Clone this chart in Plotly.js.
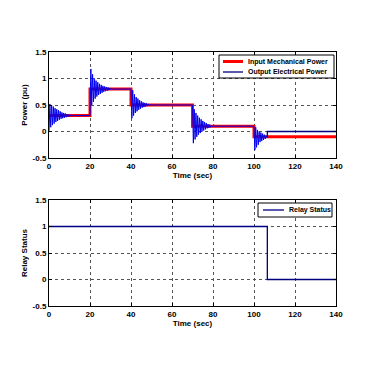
<!DOCTYPE html>
<html><head><meta charset="utf-8">
<script src="https://cdn.plot.ly/plotly-3.0.1.min.js"></script>
<style>html,body{margin:0;padding:0;background:#fff}#c{width:370px;height:370px}</style>
</head><body><div id="c"></div>
<script>
// Input mechanical power steps (time in sec, power in pu)
var mechTime = [0, 20, 20, 40, 40, 70, 70, 100, 100, 140];
var mechPower = [0.3, 0.3, 0.8, 0.8, 0.5, 0.5, 0.1, 0.1, -0.1, -0.1];

// Output electrical power: oscillation extremes read per disturbance
var segStart = [0, 20, 40, 70, 100];
var segStep = 0.42;
var seg1 = [0, 0.52, 0.08, 0.5, 0.12, 0.47, 0.15, 0.44, 0.18, 0.42, 0.2, 0.4, 0.22, 0.38, 0.24, 0.36, 0.25, 0.35, 0.26, 0.34, 0.27, 0.33, 0.28, 0.32, 0.285, 0.315, 0.29, 0.31, 0.295, 0.305, 0.3];
var seg2 = [0.3, 1.18, 0.5, 1.08, 0.56, 1.0, 0.62, 0.96, 0.66, 0.93, 0.69, 0.9, 0.71, 0.88, 0.73, 0.86, 0.75, 0.85, 0.76, 0.84, 0.77, 0.83, 0.78, 0.82, 0.79, 0.81, 0.8];
var seg3 = [0.8, 0.25, 0.78, 0.3, 0.7, 0.35, 0.65, 0.38, 0.62, 0.41, 0.59, 0.43, 0.57, 0.45, 0.55, 0.46, 0.54, 0.47, 0.53, 0.48, 0.52, 0.49, 0.51, 0.5];
var seg4 = [0.5, -0.22, 0.42, -0.15, 0.35, -0.1, 0.3, -0.06, 0.26, -0.03, 0.23, 0.0, 0.2, 0.02, 0.18, 0.04, 0.16, 0.06, 0.14, 0.07, 0.13, 0.08, 0.12, 0.09, 0.11, 0.1];
var seg5 = [0.1, -0.35, 0.08, -0.3, 0.03, -0.25, 0.0, -0.2, -0.02, -0.18, -0.04, -0.16, -0.06, -0.14, -0.08, -0.12, -0.1];
var relayTripTime = 106.5;
var postTripPower = [0, 0];

// Relay status
var relayTime = [0, 106.5, 140];
var relayStatus = [1, 0, 0];

var xTicks = [0, 20, 40, 60, 80, 100, 120, 140];
var yTicks = [-0.5, 0, 0.5, 1, 1.5];
var yTickText = ['-0.5', '0', '0.5', '1', '1.5'];

var segs = [seg1, seg2, seg3, seg4, seg5];
var elecT = [], elecP = [];
for (var s = 0; s < segs.length; s++) {
  var nextStart = s + 1 < segStart.length ? segStart[s + 1] : relayTripTime;
  for (var i = 0; i < segs[s].length; i++) {
    elecT.push(segStart[s] + i * segStep);
    elecP.push(segs[s][i]);
  }
  elecT.push(nextStart); elecP.push(segs[s][segs[s].length - 1]);
}
var tripT = [relayTripTime, relayTripTime, 140];
var tripP = [-0.1, postTripPower[0], postTripPower[1]];

var fam = 'Liberation Sans, Arial, sans-serif';
function ax(extra) {
  var a = {
    showline: true, linecolor: '#000', linewidth: 1, mirror: 'ticks',
    ticks: 'inside', ticklen: 3, tickcolor: '#000',
    showgrid: true, gridcolor: '#555', griddash: 'dot', gridwidth: 1,
    zeroline: false, tickfont: {family: fam, size: 8, color: '#000', weight: 'bold'}
  };
  for (var k in extra) a[k] = extra[k];
  return a;
}

var elecColor = '#0000ee';
var relayColor = '#000080';
var traces = [
  {x: mechTime, y: mechPower, mode: 'lines', name: 'Input Mechanical Power',
   line: {color: '#ff0000', width: 3}, xaxis: 'x', yaxis: 'y'},
  {x: elecT, y: elecP, mode: 'lines', name: 'Output Electrical Power',
   line: {color: elecColor, width: 1}, xaxis: 'x', yaxis: 'y'},
  {x: tripT, y: tripP, mode: 'lines', name: 'Output Electrical Power (after trip)',
   line: {color: relayColor, width: 1.3}, xaxis: 'x', yaxis: 'y'},
  {x: relayTime, y: relayStatus, mode: 'lines', name: 'Relay Status', line: {color: relayColor, width: 1.3, shape: 'hv'},
   xaxis: 'x2', yaxis: 'y2'}
];

// custom legend (pixel -> paper helpers)
function px(v) { return (v - 49) / 287; }
function py(v) { return 1 - (v - 52) / 254; }
var legFont = {family: fam, size: 7, color: '#000', weight: 'bold'};
var shapes = [
  {type: 'rect', xref: 'paper', yref: 'paper', x0: px(219), x1: px(334), y0: py(78), y1: py(55),
   line: {color: '#000', width: 1}, fillcolor: '#fff', layer: 'above'},
  {type: 'line', xref: 'paper', yref: 'paper', x0: px(223), x1: px(243), y0: py(61.5), y1: py(61.5),
   line: {color: '#ff0000', width: 3}, layer: 'above'},
  {type: 'line', xref: 'paper', yref: 'paper', x0: px(223), x1: px(243), y0: py(72), y1: py(72),
   line: {color: relayColor, width: 1.3}, layer: 'above'},
  {type: 'rect', xref: 'paper', yref: 'paper', x0: px(258), x1: px(332), y0: py(217), y1: py(203),
   line: {color: '#000', width: 1}, fillcolor: '#fff', layer: 'above'},
  {type: 'line', xref: 'paper', yref: 'paper', x0: px(263), x1: px(284), y0: py(210), y1: py(210),
   line: {color: relayColor, width: 1.3}, layer: 'above'}
];
var annotations = [
  {xref: 'paper', yref: 'paper', x: px(246), y: py(61.5), text: traces[0].name, showarrow: false,
   xanchor: 'left', yanchor: 'middle', font: legFont},
  {xref: 'paper', yref: 'paper', x: px(246), y: py(72), text: traces[1].name, showarrow: false,
   xanchor: 'left', yanchor: 'middle', font: legFont},
  {xref: 'paper', yref: 'paper', x: px(287), y: py(210), text: traces[3].name, showarrow: false,
   xanchor: 'left', yanchor: 'middle', font: legFont}
];

var titleFont = {family: fam, size: 8, color: '#000', weight: 'bold'};
var layout = {
  width: 370, height: 370,
  margin: {l: 49, r: 34, t: 52, b: 64},
  paper_bgcolor: '#fff', plot_bgcolor: '#fff',
  font: {family: fam, size: 8, color: '#000'},
  showlegend: false,
  xaxis: ax({domain: [0, 1], range: [0, 140], tickvals: xTicks, anchor: 'y',
    title: {text: 'Time (sec)', font: titleFont, standoff: 1}}),
  yaxis: ax({domain: [0.5827, 1], range: [-0.5, 1.5], tickvals: yTicks, ticktext: yTickText, anchor: 'x',
    title: {text: 'Power (pu)', font: titleFont, standoff: 3}}),
  xaxis2: ax({domain: [0, 1], range: [0, 140], tickvals: xTicks, anchor: 'y2',
    title: {text: 'Time (sec)', font: titleFont, standoff: 1}}),
  yaxis2: ax({domain: [0, 0.4173], range: [-0.5, 1.5], tickvals: yTicks, ticktext: yTickText, anchor: 'x2',
    title: {text: 'Relay Status', font: titleFont, standoff: 3}}),
  shapes: shapes,
  annotations: annotations
};
Plotly.newPlot('c', traces, layout, {displayModeBar: false, staticPlot: true});
</script></body></html>
